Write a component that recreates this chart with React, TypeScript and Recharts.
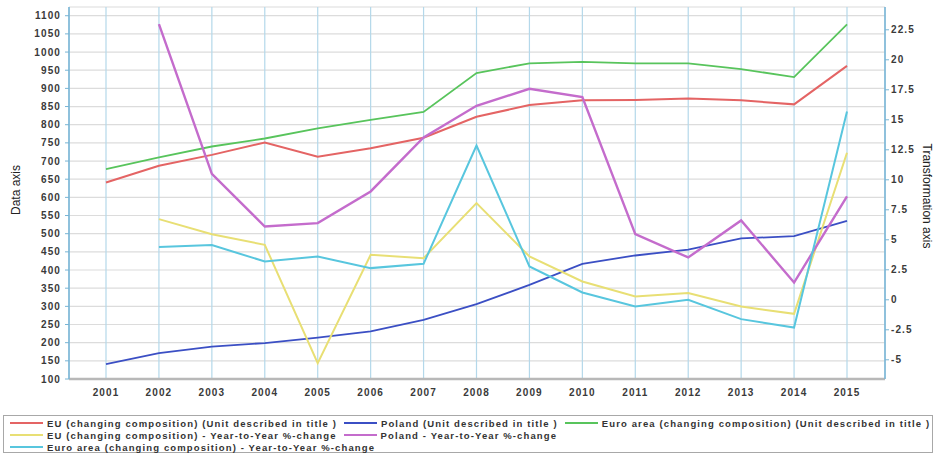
import React from 'react';
import {
  LineChart, Line, XAxis, YAxis, CartesianGrid,
} from 'recharts';

const years = ['2001', '2002', '2003', '2004', '2005', '2006', '2007', '2008', '2009', '2010', '2011', '2012', '2013', '2014', '2015'];

// levels, read against the left "Data axis"
const euLevel = [641, 687, 717, 751, 712, 735, 764, 822, 854, 867, 868, 872, 867, 856, 962];
const polandLevel = [141, 171, 189, 199, 214, 231, 263, 306, 359, 417, 440, 456, 487, 493, 535];
const euroLevel = [678, 710, 740, 762, 790, 813, 835, 942, 969, 973, 969, 969, 953, 931, 1076];

// year-to-year %-change, read against the right "Transformation axis"
const euYoy = [null, 6.72, 5.47, 4.58, -5.28, 3.75, 3.47, 8.06, 3.61, 1.53, 0.28, 0.56, -0.56, -1.17, 12.25];
const polandYoy = [null, 22.97, 10.5, 6.11, 6.39, 9.03, 13.53, 16.17, 17.58, 16.89, 5.47, 3.53, 6.61, 1.44, 8.61];
const euroYoy = [null, 4.39, 4.56, 3.19, 3.61, 2.64, 3.0, 12.86, 2.78, 0.61, -0.56, 0.0, -1.61, -2.31, 15.7];

const leftTicks = [100, 150, 200, 250, 300, 350, 400, 450, 500, 550, 600, 650, 700, 750, 800, 850, 900, 950, 1000, 1050, 1100];
const rightTicks = [-5, -2.5, 0, 2.5, 5, 7.5, 10, 12.5, 15, 17.5, 20, 22.5];

const series = [
  { key: 'euLevel', name: 'EU (changing composition) (Unit described in title )', color: '#e46464', axis: 'left', width: 2 },
  { key: 'polandLevel', name: 'Poland (Unit described in title )', color: '#3b4fc4', axis: 'left', width: 1.8 },
  { key: 'euroLevel', name: 'Euro area (changing composition) (Unit described in title )', color: '#58c45c', axis: 'left', width: 1.8 },
  { key: 'euYoy', name: 'EU (changing composition) - Year-to-Year %-change', color: '#e8df74', axis: 'right', width: 2 },
  { key: 'polandYoy', name: 'Poland - Year-to-Year %-change', color: '#c46ccc', axis: 'right', width: 2.4 },
  { key: 'euroYoy', name: 'Euro area (changing composition) - Year-to-Year %-change', color: '#58c6de', axis: 'right', width: 2 },
];

// legend rows as they wrap in the original
const legendRows = [[0, 1, 2], [3, 4], [5]];

const data = years.map((year, i) => ({
  year,
  euLevel: euLevel[i],
  polandLevel: polandLevel[i],
  euroLevel: euroLevel[i],
  euYoy: euYoy[i],
  polandYoy: polandYoy[i],
  euroYoy: euroYoy[i],
}));

const tickStyle = {
  fontFamily: '"Liberation Sans", Arial, sans-serif',
  fontSize: 10,
  fontWeight: 'bold' as const,
  fill: '#3a3a3a',
  letterSpacing: 1.1,
};

export default function App() {
  return (
    <div style={{ position: 'absolute', left: 0, top: 0, width: 935, height: 454, background: '#fff' }}>
      <LineChart
        width={935}
        height={454}
        data={data}
        margin={{ top: 7, right: 5, bottom: 45, left: 9 }}
      >
        <CartesianGrid yAxisId="left" horizontal={true} vertical={false} stroke="#dcdcdc" strokeWidth={1.2} />
        <CartesianGrid yAxisId="left" horizontal={false} vertical={true} stroke="#b4d8ea" strokeWidth={1.2} />
        <XAxis
          dataKey="year"
          padding={{ left: 37, right: 38 }}
          height={30}
          tickLine={false}
          tickSize={4}
          tickMargin={6}
          axisLine={{ stroke: '#b8b8b8', strokeWidth: 2.5 }}
          tick={tickStyle}
        />
        <YAxis
          yAxisId="left"
          width={60}
          domain={[100, 1124]}
          ticks={leftTicks}
          allowDataOverflow
          interval={0}
          tickSize={4}
          tickMargin={4}
          axisLine={{ stroke: '#78b4d4', strokeWidth: 1.5 }}
          tickLine={{ stroke: '#78b4d4' }}
          tick={tickStyle}
        />
        <YAxis
          yAxisId="right"
          orientation="right"
          width={45}
          domain={[-6.6, 24.4]}
          ticks={rightTicks}
          allowDataOverflow
          interval={0}
          tickSize={4}
          tickMargin={2}
          axisLine={{ stroke: '#78b4d4', strokeWidth: 1.5 }}
          tickLine={{ stroke: '#78b4d4' }}
          tick={tickStyle}
        />
        {series.map((s) => (
          <Line
            key={s.key}
            yAxisId={s.axis}
            type="linear"
            dataKey={s.key}
            name={s.name}
            stroke={s.color}
            strokeWidth={s.width}
            dot={false}
            activeDot={false}
            connectNulls={false}
            isAnimationActive={false}
          />
        ))}
      </LineChart>

      {/* axis titles */}
      <div
        style={{
          position: 'absolute', left: 16, top: 190, transform: 'translate(-50%, -50%) rotate(-90deg)',
          fontFamily: '"Liberation Sans Narrow", "Liberation Sans", Arial, sans-serif', fontSize: 12, color: '#222', whiteSpace: 'nowrap',
        }}
      >
        Data axis
      </div>
      <div
        style={{
          position: 'absolute', left: 927, top: 196, transform: 'translate(-50%, -50%) rotate(90deg)',
          fontFamily: '"Liberation Sans Narrow", "Liberation Sans", Arial, sans-serif', fontSize: 12, color: '#222', whiteSpace: 'nowrap',
        }}
      >
        Transformation axis
      </div>

      {/* legend */}
      <div
        style={{
          position: 'absolute', left: 3, top: 415, width: 920, height: 34, border: '1px solid #a8a8a8',
          padding: '1px 2px 1px 6px', fontFamily: '"Liberation Sans", Arial, sans-serif', fontSize: 9.5,
          fontWeight: 'bold', letterSpacing: 1.12, color: '#333',
        }}
      >
        {legendRows.map((row, r) => (
          <div key={r} style={{ display: 'flex', columnGap: 7, height: 12, whiteSpace: 'nowrap' }}>
            {row.map((idx) => {
              const s = series[idx];
              return (
                <div key={s.key} style={{ display: 'flex', alignItems: 'center' }}>
                  <div style={{ width: 33, height: 1.5, background: s.color, marginRight: 4 }} />
                  <span>{s.name}</span>
                </div>
              );
            })}
          </div>
        ))}
      </div>
    </div>
  );
}
